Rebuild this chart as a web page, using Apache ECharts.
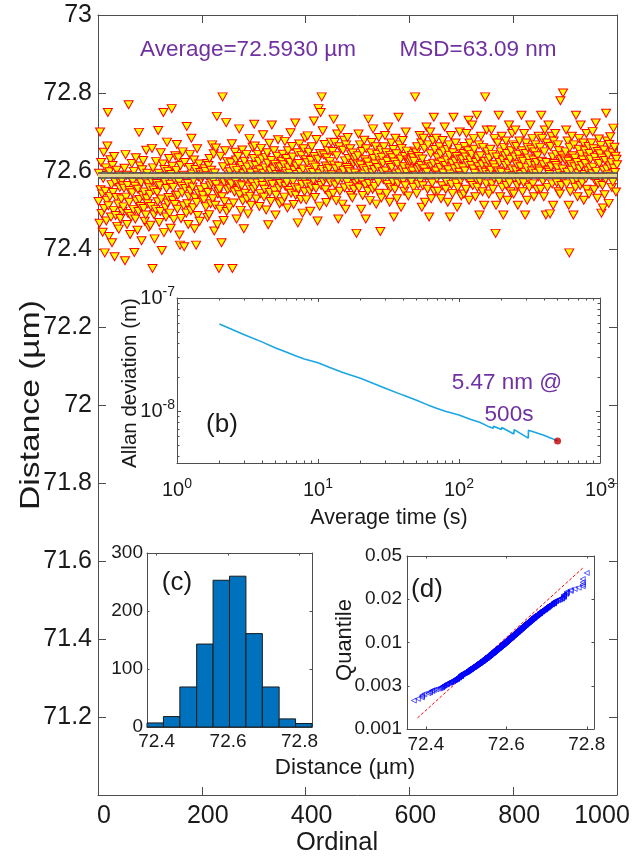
<!DOCTYPE html>
<html><head><meta charset="utf-8">
<script src="https://cdn.jsdelivr.net/npm/echarts@6/dist/echarts.min.js"></script>
<style>html,body{margin:0;padding:0;background:#fff}#c{width:644px;height:857px}</style>
</head><body><div id="c"></div>
<script>
const FONT = '"Liberation Sans", Arial, sans-serif';
const TXT = '#1a1a1a';
const AX = '#4d4d4d';
const PURPLE = '#7030A0';

// ---- main plot (a) ----
const ordinalMin = 0, ordinalMax = 1000, ordinalStep = 200;
const distMin = 71, distMax = 73, distStep = 0.2;
const averageDistance = 72.593;
// distance of each measurement, nm above 72 µm (ordinal 1..1000)
const distanceNm = [
522,594,466,700,552,622,491,541,443,581,648,504,390,548,608,472,524,664,750,511,432,598,535,629,482,565,416,614,545,499,637,380,572,486,532,602,458,584,515,451,589,558,478,569,528,576,496,562,508,556,
607,370,642,533,589,463,563,491,770,520,550,437,581,483,619,544,574,501,599,391,561,477,634,523,586,448,553,496,699,527,613,509,570,421,603,537,627,504,546,471,577,487,653,529,594,516,567,456,557,540,
461,509,575,658,350,608,551,488,426,582,501,624,568,545,521,704,594,468,562,496,647,528,396,586,618,750,442,604,572,506,482,555,674,518,599,532,632,492,566,453,591,760,612,525,558,476,579,514,639,538,
601,668,502,538,634,572,436,410,614,478,561,544,649,589,511,406,622,555,582,492,714,516,568,463,535,609,642,548,498,684,592,559,506,576,628,452,531,604,410,519,657,486,585,542,618,471,596,552,578,528,
586,538,592,526,606,558,599,508,588,619,481,545,614,488,632,562,516,602,569,667,529,575,644,446,595,512,659,565,740,462,541,548,350,554,502,638,578,416,534,790,611,473,571,521,652,582,724,496,624,552,
576,590,506,598,556,621,567,670,350,607,518,581,546,648,573,628,477,601,550,637,565,708,539,587,499,614,562,654,523,593,452,625,543,604,579,642,528,610,490,584,559,683,535,595,512,617,570,661,553,632,
720,664,560,614,528,597,569,642,589,624,509,603,542,658,575,631,563,693,594,533,553,608,635,500,583,647,620,462,572,671,545,600,522,627,718,566,586,605,652,549,617,487,538,591,638,577,680,611,556,516,
568,610,588,625,521,643,580,616,533,676,561,599,632,571,505,652,608,550,594,622,698,543,585,663,636,574,514,602,558,723,538,613,591,647,467,554,619,669,582,596,527,640,565,492,605,657,577,547,685,629,
526,566,621,690,587,648,601,548,497,627,559,662,615,596,576,728,637,532,610,555,681,582,472,630,760,593,510,645,750,563,790,604,703,573,641,585,668,552,613,519,634,599,652,579,607,538,624,570,674,590,
590,650,543,733,615,673,564,606,524,639,695,575,477,612,662,548,592,708,587,581,515,653,601,679,557,626,502,667,609,571,686,604,632,560,598,657,537,642,584,531,646,620,553,629,595,635,568,440,578,618,
639,695,557,587,667,615,502,575,650,537,606,592,679,629,564,477,657,601,623,548,733,568,612,524,584,646,673,595,553,708,632,604,560,618,662,515,581,642,609,571,686,543,626,445,653,531,635,598,620,578,
662,583,691,600,647,542,625,565,713,589,614,520,640,558,672,609,634,573,655,482,623,553,684,592,644,529,617,569,738,595,667,580,631,507,658,603,678,576,611,548,637,562,700,597,651,586,628,536,620,606,
623,583,628,573,640,600,634,558,625,651,790,589,647,542,662,603,565,637,609,691,576,614,672,507,631,562,684,606,658,520,586,592,713,597,553,667,617,482,580,700,644,529,611,569,678,620,738,548,655,595,
600,684,580,634,548,617,589,662,609,644,529,623,562,678,595,651,583,713,614,553,573,628,655,520,603,667,640,482,592,691,565,620,542,647,738,586,606,625,672,569,637,507,558,611,658,597,700,631,576,536,
588,630,608,645,541,663,600,636,553,696,581,619,652,730,525,672,628,570,614,642,718,563,605,683,656,594,534,622,578,743,558,633,611,667,487,574,639,689,602,616,547,660,585,512,625,790,597,567,705,649,
611,625,541,633,591,656,602,705,567,642,553,616,581,683,608,440,512,636,585,672,600,743,574,622,534,649,597,689,558,628,487,660,578,639,614,677,563,645,525,619,594,718,570,630,547,652,605,696,588,667,
541,581,636,705,602,663,616,563,512,642,574,677,630,611,591,743,652,547,625,570,696,597,487,645,672,608,525,660,633,578,558,619,718,588,656,600,683,567,628,534,649,614,667,594,622,553,639,585,689,605,
600,660,553,743,625,683,574,616,534,649,705,585,487,622,672,558,602,718,597,591,490,663,611,689,567,636,512,677,619,581,696,614,642,570,608,667,547,652,594,541,780,630,563,639,605,800,578,633,588,628,
649,705,567,597,677,625,512,390,660,547,616,602,689,639,574,487,667,611,633,558,743,578,622,534,594,656,683,605,563,718,642,614,570,628,672,525,591,652,619,581,696,553,636,600,663,541,645,608,630,588,
672,593,701,610,657,552,635,575,723,599,624,530,650,568,682,619,644,583,665,492,633,563,505,602,654,539,627,579,748,605,677,590,641,517,668,613,688,586,621,558,647,572,710,607,661,596,638,546,630,616
];

// ---- inset (b) Allan deviation ----
const allanTau = [2,3,4,5,6,7,8,10,12,15,20,25,30,40,50,60,70,80,100,110,120,140,160,175,176,200,201,245,246,310,311,400,450,500];
const allanDev = [5.9e-8,4.75e-8,4.1e-8,3.62e-8,3.32e-8,3.08e-8,2.9e-8,2.68e-8,2.45e-8,2.2e-8,1.96e-8,1.75e-8,1.6e-8,1.39e-8,1.25e-8,1.14e-8,1.06e-8,1.0e-8,9.3e-9,8.85e-9,8.5e-9,8.0e-9,7.4e-9,7.1e-9,7.4e-9,6.9e-9,7.2e-9,6.3e-9,6.9e-9,5.8e-9,6.8e-9,6.15e-9,5.8e-9,5.47e-9];
const allanMark = [500, 5.47e-9];
const tauMin = 1, tauMax = 1000, devMin = 3.5e-9, devMax = 1e-7;
const tauMajor = [1,10,100,1000];
const devMajor = [1e-8,1e-7];

// ---- inset (c) histogram ----
const histEdges = [72.373,72.419,72.465,72.512,72.558,72.604,72.650,72.696,72.743,72.789,72.835];
const histCounts = [7,18,69,143,253,260,161,69,14,6];
const histTicks = [72.4,72.6,72.8];

// ---- inset (d) normal probability plot ----
const qqTicks = [72.4,72.6,72.8];
const qqXMin = 72.353, qqXMax = 72.818;
const quantileLabels = ['0.001','0.003','0.01','0.02','0.05'];
const refLineX = [72.379, 72.79];
const refLineY = [0.255, 3.72];

// ---------- build ----------
const mainData = distanceNm.map((v, i) => [i + 1, 72 + v / 1000]);
const sortedDist = distanceNm.map(v => 72 + v / 1000).sort((a, b) => a - b);
const nQ = sortedDist.length;
const qqData = sortedDist.map((x, i) => {
  const p = (i + 0.5) / nQ;
  const z = 4.91 * (Math.pow(p, 0.14) - Math.pow(1 - p, 0.14));
  return [x, 2 + z / 2];
});
const minorLog = (lo, hi) => { const out = []; for (let d = lo; d < hi; d *= 10) for (let k = 2; k <= 9; k++) out.push(d * k); return out; };
const tauMinor = minorLog(1, 1000);
const devMinor = minorLog(1e-9, 1e-7).filter(v => v >= devMin && v <= devMax);

const supFmt = v => '10{s|' + Math.round(Math.log10(v)) + '}';
const supRich = { s: { fontSize: 14, fontFamily: FONT, color: TXT, padding: [0, 0, 12, 0] } };

function vAxis(o) {
  return Object.assign({
    axisLine: { show: true, onZero: false, lineStyle: { color: AX, width: 1 } },
    axisTick: { show: true, inside: true, length: 4, lineStyle: { color: AX } },
    axisLabel: { show: false },
    splitLine: { show: false }
  }, o);
}

const xAxes = [
  vAxis({ gridIndex: 0, type: 'value', position: 'bottom', min: ordinalMin, max: ordinalMax, interval: ordinalStep,
    axisTick: { show: true, inside: true, length: 8, lineStyle: { color: AX } },
    axisLabel: { show: true, fontSize: 25, fontFamily: FONT, color: TXT, margin: 9, padding: [0, 0, 0, 12],
      formatter: v => v === ordinalMax ? '{last|' + v + '}' : String(v),
      rich: { last: { fontSize: 25, fontFamily: FONT, color: TXT, padding: [0, 42, 0, 0] } } } }),
  vAxis({ gridIndex: 0, type: 'value', position: 'top', min: ordinalMin, max: ordinalMax, interval: ordinalStep,
    axisTick: { show: true, inside: true, length: 8, lineStyle: { color: AX } } }),
  vAxis({ gridIndex: 1, type: 'log', position: 'bottom', min: tauMin, max: tauMax,
    axisTick: { show: true, inside: true, length: 4, customValues: tauMajor, lineStyle: { color: AX } },
    axisLabel: { show: true, customValues: tauMajor, fontSize: 20, fontFamily: FONT, color: TXT, margin: 14, formatter: supFmt, rich: supRich } }),
  vAxis({ gridIndex: 1, type: 'log', position: 'bottom', min: tauMin, max: tauMax, axisLine: { show: false },
    axisTick: { show: true, inside: true, length: 2.5, customValues: tauMinor, lineStyle: { color: AX } } }),
  vAxis({ gridIndex: 1, type: 'log', position: 'top', min: tauMin, max: tauMax,
    axisTick: { show: true, inside: true, length: 4, customValues: tauMajor, lineStyle: { color: AX } } }),
  vAxis({ gridIndex: 1, type: 'log', position: 'top', min: tauMin, max: tauMax, axisLine: { show: false },
    axisTick: { show: true, inside: true, length: 2.5, customValues: tauMinor, lineStyle: { color: AX } } }),
  vAxis({ gridIndex: 2, type: 'value', position: 'bottom', min: histEdges[0], max: histEdges[histEdges.length - 1],
    axisTick: { show: true, inside: true, length: 2.5, customValues: histTicks, lineStyle: { color: AX } },
    axisLabel: { show: true, customValues: histTicks, fontSize: 19, fontFamily: FONT, color: TXT, margin: 5, formatter: v => v.toFixed(1) } }),
  vAxis({ gridIndex: 2, type: 'value', position: 'top', min: histEdges[0], max: histEdges[histEdges.length - 1],
    axisTick: { show: true, inside: true, length: 2.5, customValues: histTicks, lineStyle: { color: AX } } }),
  vAxis({ gridIndex: 3, type: 'value', position: 'bottom', min: qqXMin, max: qqXMax,
    axisTick: { show: true, inside: true, length: 2.5, customValues: qqTicks, lineStyle: { color: AX } },
    axisLabel: { show: true, customValues: qqTicks, fontSize: 19, fontFamily: FONT, color: TXT, margin: 6, formatter: v => v.toFixed(1) } }),
  vAxis({ gridIndex: 3, type: 'value', position: 'top', min: qqXMin, max: qqXMax,
    axisTick: { show: true, inside: true, length: 2.5, customValues: qqTicks, lineStyle: { color: AX } } })
];

const yAxes = [
  vAxis({ gridIndex: 0, type: 'value', position: 'left', min: distMin, max: distMax, interval: distStep,
    axisTick: { show: true, inside: true, length: 8, lineStyle: { color: AX } },
    axisLabel: { show: true, fontSize: 25, fontFamily: FONT, color: TXT, margin: 6, padding: [6, 0, 0, 0],
      formatter: v => Math.abs(v - distMin) < 1e-6 ? '' : String(Math.round(v * 10) / 10) } }),
  vAxis({ gridIndex: 0, type: 'value', position: 'right', min: distMin, max: distMax, interval: distStep,
    axisTick: { show: true, inside: true, length: 8, lineStyle: { color: AX } } }),
  vAxis({ gridIndex: 1, type: 'log', position: 'left', min: devMin, max: devMax,
    axisTick: { show: true, inside: true, length: 4, customValues: devMajor, lineStyle: { color: AX } },
    axisLabel: { show: true, customValues: devMajor, fontSize: 20, fontFamily: FONT, color: TXT, margin: 2, formatter: supFmt, rich: supRich } }),
  vAxis({ gridIndex: 1, type: 'log', position: 'left', min: devMin, max: devMax, axisLine: { show: false },
    axisTick: { show: true, inside: true, length: 2.5, customValues: devMinor, lineStyle: { color: AX } } }),
  vAxis({ gridIndex: 1, type: 'log', position: 'right', min: devMin, max: devMax,
    axisTick: { show: true, inside: true, length: 4, customValues: devMajor, lineStyle: { color: AX } } }),
  vAxis({ gridIndex: 1, type: 'log', position: 'right', min: devMin, max: devMax, axisLine: { show: false },
    axisTick: { show: true, inside: true, length: 2.5, customValues: devMinor, lineStyle: { color: AX } } }),
  vAxis({ gridIndex: 2, type: 'value', position: 'left', min: 0, max: 300, interval: 100,
    axisTick: { show: true, inside: true, length: 2.5, lineStyle: { color: AX } },
    axisLabel: { show: true, fontSize: 19, fontFamily: FONT, color: TXT, margin: 4 } }),
  vAxis({ gridIndex: 2, type: 'value', position: 'right', min: 0, max: 300, interval: 100,
    axisTick: { show: true, inside: true, length: 2.5, lineStyle: { color: AX } } }),
  vAxis({ gridIndex: 3, type: 'value', position: 'left', min: 0, max: quantileLabels.length - 1, interval: 1,
    axisTick: { show: true, inside: true, length: 2.5, lineStyle: { color: AX } },
    axisLabel: { show: true, fontSize: 19, fontFamily: FONT, color: TXT, margin: 5, formatter: v => quantileLabels[Math.round(v)] } }),
  vAxis({ gridIndex: 3, type: 'value', position: 'right', min: 0, max: quantileLabels.length - 1, interval: 1,
    axisTick: { show: true, inside: true, length: 2.5, lineStyle: { color: AX } } })
];

function txt(text, x, y, size, color, rot, sx) {
  return { type: 'text', x: x, y: y, rotation: rot || 0, scaleX: sx || 1, z: 100,
    style: { text: text, fill: color || TXT, font: size + 'px ' + FONT, align: 'center', verticalAlign: 'middle', textAlign: 'center', textVerticalAlign: 'middle' } };
}

const option = {
  backgroundColor: '#fff',
  animation: false,
  grid: [
    { left: 98, top: 15, width: 519, height: 780, outerBoundsMode: 'none' },
    { left: 177, top: 298, width: 423, height: 165, outerBoundsMode: 'none' },
    { left: 147, top: 553, width: 165, height: 174, outerBoundsMode: 'none' },
    { left: 407, top: 556, width: 187, height: 173, outerBoundsMode: 'none' }
  ],
  xAxis: xAxes,
  yAxis: yAxes,
  series: [
    { type: 'scatter', xAxisIndex: 0, yAxisIndex: 0, data: mainData, symbol: 'triangle', symbolRotate: 180, symbolSize: [9, 8],
      itemStyle: { color: '#FFFF00', borderColor: '#FF0000', borderWidth: 1, opacity: 1 }, z: 2, silent: true },
    { type: 'line', xAxisIndex: 0, yAxisIndex: 0, data: [], z: 5, silent: true,
      markLine: { symbol: 'none', silent: true, label: { show: false },
        data: [{ yAxis: averageDistance, lineStyle: { color: 'rgba(90,90,90,0.85)', width: 7, type: 'solid' } }] } },
    { type: 'line', xAxisIndex: 0, yAxisIndex: 0, data: [], z: 6, silent: true,
      markLine: { symbol: 'none', silent: true, label: { show: false },
        data: [{ yAxis: averageDistance, lineStyle: { color: '#E6D68C', width: 3, type: 'solid' } }] } },
    { type: 'line', xAxisIndex: 2, yAxisIndex: 2, data: allanTau.map((t, i) => [t, allanDev[i]]), showSymbol: false,
      lineStyle: { color: '#1AA6E3', width: 1.6 }, z: 3, silent: true },
    { type: 'scatter', xAxisIndex: 2, yAxisIndex: 2, data: [allanMark], symbol: 'circle', symbolSize: 7,
      itemStyle: { color: '#C00000' }, z: 4, silent: true },
    { type: 'custom', xAxisIndex: 6, yAxisIndex: 6, silent: true,
      data: histCounts.map((c, i) => [histEdges[i], histEdges[i + 1], c]),
      encode: { x: [0, 1], y: 2 },
      renderItem: (params, api) => {
        const p0 = api.coord([api.value(0), 0]);
        const p1 = api.coord([api.value(1), api.value(2)]);
        return { type: 'rect', shape: { x: p0[0], y: p1[1], width: p1[0] - p0[0], height: p0[1] - p1[1] },
          style: { fill: '#0072BD', stroke: '#1a1a1a', lineWidth: 1 } };
      } },
    { type: 'line', xAxisIndex: 8, yAxisIndex: 8, data: refLineX.map((x, i) => [x, refLineY[i]]), showSymbol: false,
      lineStyle: { color: '#FF0000', width: 1, type: [3, 2] }, z: 3, silent: true },
    { type: 'scatter', xAxisIndex: 8, yAxisIndex: 8, data: qqData, symbol: 'triangle', symbolRotate: 90, symbolSize: 5,
      itemStyle: { color: 'rgba(0,0,0,0)', borderColor: '#0000FF', borderWidth: 0.8 }, z: 4, silent: true }
  ],
  graphic: [
    txt('Average=72.5930 µm', 248, 50, 22.5, PURPLE),
    txt('MSD=63.09 nm', 478, 50, 22.5, PURPLE),
    txt('Distance (µm)', 31, 405, 28, TXT, Math.PI / 2, 1.2),
    txt('Ordinal', 337, 843, 25.5, TXT),
    txt('(b)', 222, 425, 26, TXT),
    txt('5.47 nm @', 507, 383, 22.5, PURPLE),
    txt('500s', 509, 415, 22.5, PURPLE),
    txt('Allan deviation (m)', 130, 383, 20.5, TXT, Math.PI / 2),
    txt('Average time (s)', 389, 518, 21.5, TXT),
    txt('(c)', 177, 583, 26, TXT),
    txt('Distance (µm)', 345, 768, 22.5, TXT),
    txt('(d)', 427, 590, 26, TXT),
    txt('Quantile', 345, 640, 22, TXT, Math.PI / 2)
  ]
};
const chart = echarts.init(document.getElementById('c'), null, { renderer: 'canvas', width: 644, height: 857 });
chart.setOption(option);
</script></body></html>
